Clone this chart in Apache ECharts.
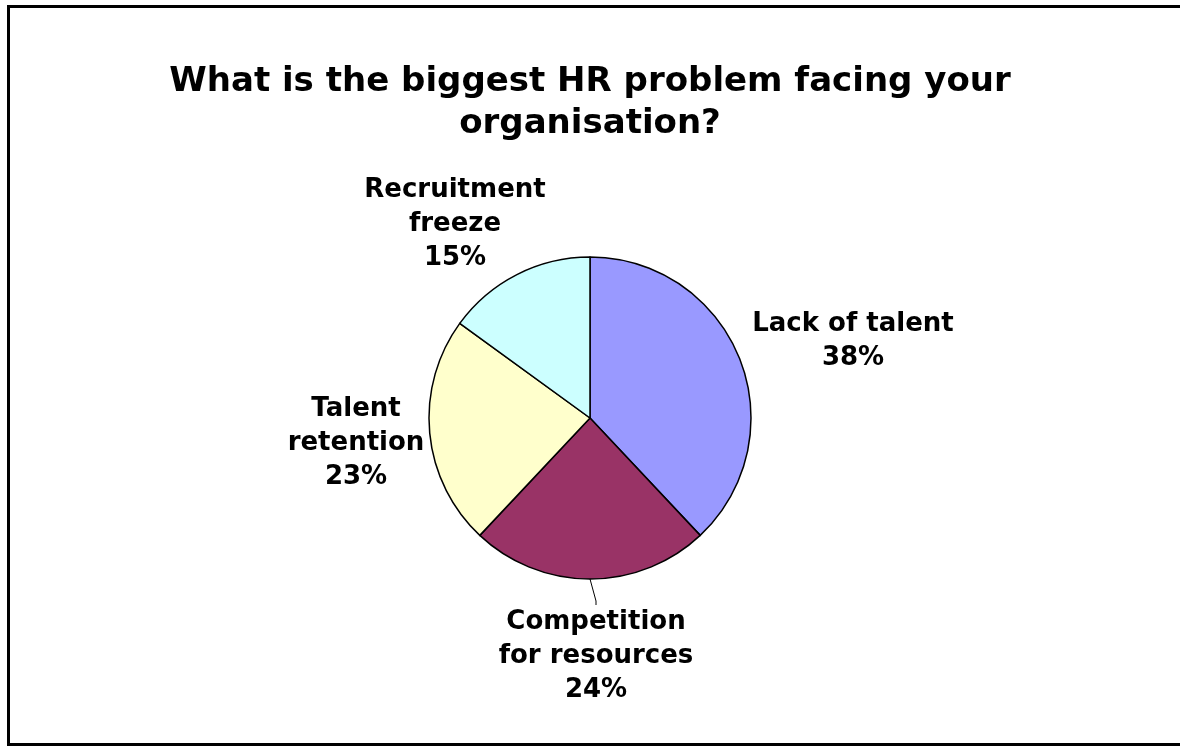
<!DOCTYPE html>
<html>
<head>
<meta charset="utf-8">
<style>
  html, body { margin: 0; padding: 0; background: #ffffff; }
  #chart { width: 1180px; height: 748px; }
</style>
<script src="https://cdn.jsdelivr.net/npm/echarts@6/dist/echarts.min.js"></script>
</head>
<body>
<div id="chart"></div>
<script>
// Survey answers, clockwise from 12 o'clock
const categories = ['Lack of talent', 'Competition for resources', 'Talent retention', 'Recruitment freeze'];
const labelTexts = ['Lack of talent', 'Competition\nfor resources', 'Talent\nretention', 'Recruitment\nfreeze'];
const shares = [38, 24, 23, 15];
const sliceColors = ['#9999FF', '#993366', '#FFFFCC', '#CCFFFF'];

// Where each label block sits (centre of the text block)
const labelSpots = [[853, 341], [596, 656], [356, 443], [455, 224]];

const chart = echarts.init(document.getElementById('chart'), null, { renderer: 'canvas' });

const option = {
  backgroundColor: '#ffffff',
  animation: false,
  title: {
    text: 'What is the biggest HR problem facing your\norganisation?',
    left: 'center',
    top: 56,
    textStyle: {
      fontFamily: '"DejaVu Sans", Verdana, sans-serif',
      fontWeight: 'bold',
      fontSize: 34,
      lineHeight: 42,
      color: '#000000'
    }
  },
  graphic: [{
    type: 'rect',
    silent: true,
    shape: { x: 8.5, y: 6.5, width: 1200, height: 738 },
    style: { fill: 'none', stroke: '#000000', lineWidth: 3 }
  }],
  series: [{
    type: 'pie',
    center: [590, 418],
    radius: 161,
    startAngle: 90,
    clockwise: true,
    avoidLabelOverlap: false,
    itemStyle: { borderColor: '#000000', borderWidth: 1.5 },
    emphasis: { disabled: true },
    label: {
      show: true,
      position: 'outside',
      fontFamily: '"DejaVu Sans", Verdana, sans-serif',
      fontWeight: 'bold',
      fontSize: 26,
      lineHeight: 34,
      color: '#000000',
      align: 'center',
      formatter: p => labelTexts[p.dataIndex] + '\n' + p.value + '%'
    },
    labelLine: { show: false },
    labelLayout: p => ({
      x: labelSpots[p.dataIndex][0],
      y: labelSpots[p.dataIndex][1],
      align: 'center',
      verticalAlign: 'middle'
    }),
    data: categories.map((name, i) => ({
      name: name,
      value: shares[i],
      itemStyle: { color: sliceColors[i] },
      labelLine: i === 1
        ? { show: true, length: 10, length2: 4, lineStyle: { color: '#000000', width: 1 } }
        : { show: false }
    }))
  }]
};

chart.setOption(option);
</script>
</body>
</html>
